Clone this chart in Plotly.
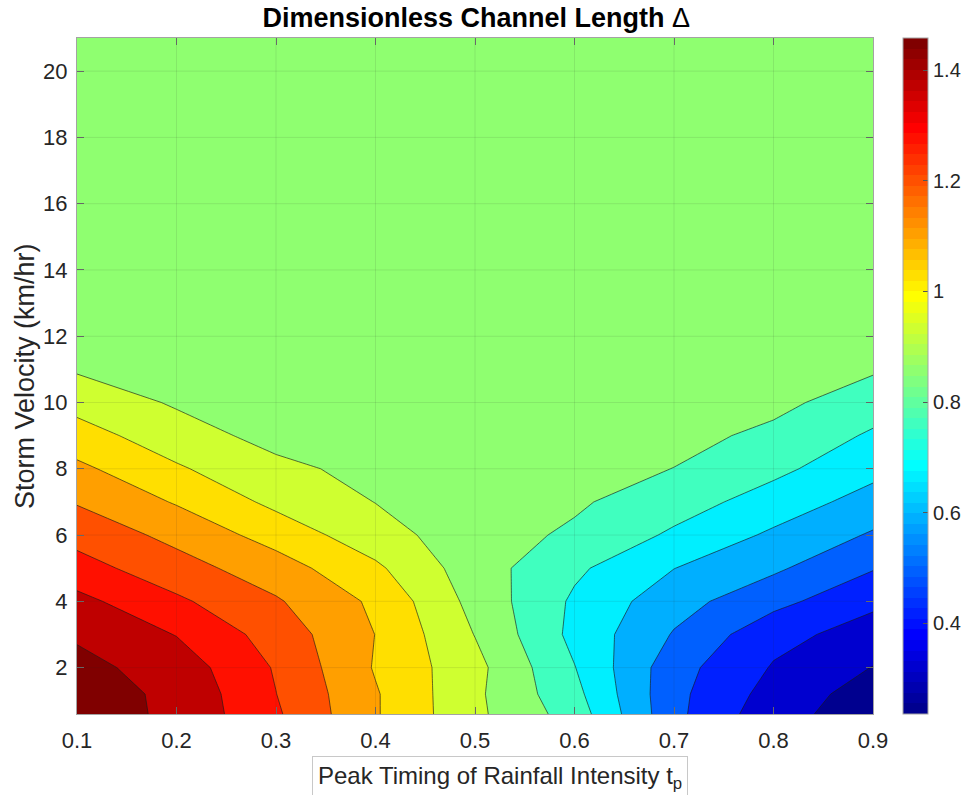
import plotly.graph_objects as go

# Peak timing of rainfall intensity t_p (columns) and storm velocity in km/hr (rows)
peak_timing = [0.1, 0.2, 0.3, 0.4, 0.5, 0.6, 0.7, 0.8, 0.9]
storm_velocity = [0.6, 1.2, 2, 3, 4, 5, 6, 7, 8, 9, 10, 11, 12, 21]

# Dimensionless channel length, one row per storm velocity
delta_rows = [
    [1.458, 1.397, 1.252, 1.073, 0.910, 0.765, 0.477, 0.310, 0.236],   # 0.6
    [1.452, 1.397, 1.241, 1.073, 0.908, 0.742, 0.478, 0.333, 0.240],   # 1.2
    [1.440, 1.376, 1.232, 1.058, 0.917, 0.719, 0.488, 0.360, 0.277],   # 2
    [1.403, 1.324, 1.203, 1.064, 0.888, 0.692, 0.535, 0.393, 0.333],   # 3
    [1.352, 1.255, 1.162, 1.049, 0.862, 0.702, 0.575, 0.482, 0.383],   # 4
    [1.274, 1.187, 1.105, 0.994, 0.844, 0.732, 0.630, 0.556, 0.460],   # 5
    [1.210, 1.128, 1.030, 0.927, 0.840, 0.790, 0.702, 0.614, 0.532],   # 6
    [1.146, 1.058, 0.957, 0.889, 0.850, 0.815, 0.755, 0.678, 0.594],   # 7
    [1.085, 0.988, 0.914, 0.862, 0.850, 0.840, 0.802, 0.737, 0.655],   # 8
    [1.012, 0.932, 0.860, 0.850, 0.850, 0.850, 0.830, 0.784, 0.704],   # 9
    [0.950, 0.880, 0.850, 0.850, 0.850, 0.850, 0.850, 0.825, 0.758],   # 10
    [0.881, 0.855, 0.850, 0.850, 0.850, 0.850, 0.850, 0.845, 0.813],   # 11
    [0.850, 0.850, 0.850, 0.850, 0.850, 0.850, 0.850, 0.850, 0.850],   # 12
    [0.850, 0.850, 0.850, 0.850, 0.850, 0.850, 0.850, 0.850, 0.850],   # 21
]

x_ticks = [0.1, 0.2, 0.3, 0.4, 0.5, 0.6, 0.7, 0.8, 0.9]
x_tick_text = ["0.1", "0.2", "0.3", "0.4", "0.5", "0.6", "0.7", "0.8", "0.9"]
y_ticks = [2, 4, 6, 8, 10, 12, 14, 16, 18, 20]
y_tick_text = ["2", "4", "6", "8", "10", "12", "14", "16", "18", "20"]
cbar_ticks = [0.4, 0.6, 0.8, 1.0, 1.2, 1.4]
cbar_tick_text = ["0.4", "0.6", "0.8", "1", "1.2", "1.4"]

N_BANDS = 15
FONT = "Liberation Sans, Arial, Helvetica, sans-serif"
TEXT = "#262626"
AXIS = "#a3a3a3"
GRID = "rgba(38,38,38,0.10)"


def jet64(i):
    """MATLAB jet(64) colour for 1-based index i."""
    if i <= 24:
        r = 0.0
    elif i <= 40:
        r = (i - 24) / 16
    elif i <= 56:
        r = 1.0
    else:
        r = (72 - i) / 16
    if i <= 8:
        g = 0.0
    elif i <= 24:
        g = (i - 8) / 16
    elif i <= 40:
        g = 1.0
    elif i <= 55:
        g = (56 - i) / 16
    else:
        g = 0.0
    if i <= 8:
        b = (i + 8) / 16
    elif i <= 24:
        b = 1.0
    elif i <= 39:
        b = (40 - i) / 16
    else:
        b = 0.0
    return "rgb(%d,%d,%d)" % (round(r * 255), round(g * 255), round(b * 255))


# colour limits follow the data
z_min = min(min(r) for r in delta_rows)
z_max = max(max(r) for r in delta_rows)
step = (z_max - z_min) / (N_BANDS - 1)

# each filled band takes the jet(64) entry of its position in the colour range
band_scale = []
for k in range(N_BANDS):
    pos = k / (N_BANDS - 1)
    idx = min(int(pos * 64), 63) + 1
    band_scale.append([pos, jet64(idx)])

# stepped jet(64) scale for the colour bar
bar_scale = []
for i in range(64):
    c = jet64(i + 1)
    bar_scale.append([i / 64, c])
    bar_scale.append([(i + 1) / 64, c])

fig = go.Figure()

fig.add_trace(go.Contour(
    x=peak_timing,
    y=storm_velocity,
    z=delta_rows,
    autocontour=False,
    contours=dict(start=z_min + step / 2, end=z_max - step / 2, size=step,
                  coloring="fill", showlines=True),
    colorscale=band_scale,
    line=dict(color="rgba(25,25,25,0.8)", width=0.8, smoothing=0),
    showscale=False,
    hoverinfo="skip",
))

# colour bar carrier
fig.add_trace(go.Scatter(
    x=[None, None], y=[None, None], mode="markers",
    marker=dict(color=[z_min, z_max], cmin=z_min, cmax=z_max,
                colorscale=bar_scale, showscale=True,
                colorbar=dict(
                    x=1.0377, xanchor="left", xpad=0,
                    y=0.5, yanchor="middle", ypad=0,
                    lenmode="pixels", len=676,
                    thickness=25,
                    outlinecolor=AXIS, outlinewidth=1,
                    tickvals=cbar_ticks, ticktext=cbar_tick_text,
                    ticks="inside", ticklen=5, tickcolor="#555555",
                    tickfont=dict(family=FONT, size=20, color=TEXT),
                )),
    hoverinfo="skip", showlegend=False,
))

# grid lines drawn over the filled contours
for xv in x_ticks[1:-1]:
    fig.add_shape(type="line", xref="x", yref="paper", x0=xv, x1=xv, y0=0, y1=1,
                  line=dict(color=GRID, width=1), layer="above")
for yv in y_ticks:
    fig.add_shape(type="line", xref="paper", yref="y", x0=0, x1=1, y0=yv, y1=yv,
                  line=dict(color=GRID, width=1), layer="above")

axis_common = dict(
    showgrid=False, zeroline=False,
    showline=True, linecolor=AXIS, linewidth=1.3, mirror="ticks",
    ticks="inside", ticklen=7, tickcolor="#6e6e6e", tickwidth=1,
    tickfont=dict(family=FONT, size=22, color=TEXT),
)

fig.update_xaxes(range=[0.1, 0.9], tickvals=x_ticks, ticktext=x_tick_text,
                 ticklabelstandoff=6, **axis_common)
fig.update_yaxes(range=[0.6, 21], tickvals=y_ticks, ticktext=y_tick_text,
                 ticklabelstandoff=4, **axis_common)

fig.update_layout(
    width=970, height=795,
    margin=dict(l=77, r=97, t=38, b=81, autoexpand=False),
    paper_bgcolor="white", plot_bgcolor="white",
    showlegend=False,
    font=dict(family=FONT, color=TEXT),
    title=dict(text="<b>Dimensionless Channel Length</b> Δ",
               x=0.491, xanchor="center", xref="container",
               y=1 - 18 / 795, yanchor="middle", yref="container",
               font=dict(family=FONT, size=27, color="#000000")),
    annotations=[
        dict(text="Peak Timing of Rainfall Intensity t<sub>p</sub>",
             xref="paper", yref="paper", x=0.531, y=-0.0625,
             xanchor="center", yanchor="top", showarrow=False,
             font=dict(family=FONT, size=24, color=TEXT),
             bordercolor="#c8c8c8", borderwidth=1, borderpad=5,
             bgcolor="white"),
        dict(text="Storm Velocity (km/hr)",
             xref="paper", yref="paper", x=-0.0653, y=0.5,
             xanchor="center", yanchor="middle", textangle=-90, showarrow=False,
             font=dict(family=FONT, size=27, color=TEXT)),
    ],
)

fig.write_html("out.html")
